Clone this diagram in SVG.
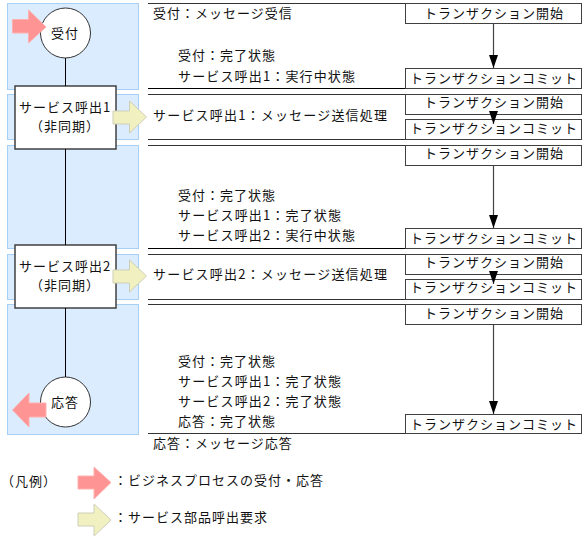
<svg xmlns="http://www.w3.org/2000/svg" width="585" height="539" viewBox="0 0 585 539">
<style>
text{font-family:"Noto Sans CJK JP","Liberation Sans",sans-serif;font-size:13px;letter-spacing:1px;fill:#111}
.m{text-anchor:middle}
.lane{fill:#dbecff;stroke:#a6d0f5;stroke-width:1}
.box{fill:#fff;stroke:#404040;stroke-width:1.5}
.tx{fill:#fff;stroke:#404040;stroke-width:1}
.rule{stroke:#333;stroke-width:1;fill:none}
.rk{stroke:#000;stroke-width:1;fill:none}
.red{fill:#ff9494;stroke:#ffb0b0;stroke-width:1}
.yel{fill:#f0f0c0;stroke:#cfcfb8;stroke-width:1}
.ln{stroke:#000;stroke-width:1;fill:none}
.fl{stroke:#444;stroke-width:1.2;fill:none;marker-end:url(#ah)}
</style>
<defs>
<marker id="ah" markerUnits="userSpaceOnUse" markerWidth="13" markerHeight="9" refX="13" refY="4.500" orient="auto" viewBox="0 0 13 9"><path d="M0 0L13 4.500L0 9Z" fill="#000"/></marker>
</defs>
<g id="lanes">
<rect class="lane" x="7.5" y="3.5" width="131" height="86"/>
<rect class="lane" x="7.5" y="94.5" width="131" height="45"/>
<rect class="lane" x="7.5" y="145.5" width="131" height="103"/>
<rect class="lane" x="7.5" y="254.5" width="131" height="45"/>
<rect class="lane" x="7.5" y="304.5" width="131" height="130"/>
</g>
<g id="rules">
<path class="rule" d="M148 3.500H581M148 94.500H581M148 139.500H581M148 145.500H581M148 254.500H581M148 299.500H581M148 304.500H581M148 433.500H405"/>
<path class="rk" d="M148 88.500H581M148 248.500H581"/>
</g>
<g id="start"><circle cx="65.500" cy="33" r="25" fill="#fff" stroke="#333" stroke-width="1"/><text class="m" x="65" y="38">受付</text></g>
<g id="end"><circle cx="65.500" cy="402" r="25" fill="#fff" stroke="#333" stroke-width="1"/><text class="m" x="65" y="407">応答</text></g>
<g id="arrow-in"><path class="red" d="M12.500 19.500H28.500V10L46 27L28.500 43V33H12.500Z"/></g>
<g id="arrow-out"><path class="red" d="M46 403H29V393L12.500 410L29 427V417H46Z"/></g>
<g id="call1"><rect class="box" x="15" y="86" width="101" height="63"/><text class="m" x="65" y="112">サービス呼出1</text><text class="m" x="65" y="131">（非同期）</text></g>
<g id="call2"><rect class="box" x="15" y="245" width="101" height="63"/><text class="m" x="65" y="271">サービス呼出2</text><text class="m" x="65" y="290">（非同期）</text></g>
<g id="arrow-y1"><path class="yel" d="M113 111H129.500V101L146.500 117L129.500 133V124H113Z"/></g>
<g id="arrow-y2"><path class="yel" d="M113 270H129.500V260L146.500 276L129.500 292V283H113Z"/></g>
<g id="tx1"><rect class="tx" x="405.500" y="3.500" width="176" height="20"/><text class="m" x="494" y="18">トランザクション開始</text></g>
<g id="tx2"><rect class="tx" x="405.500" y="68.500" width="176" height="20"/><text class="m" x="494" y="83">トランザクションコミット</text></g>
<g id="tx3"><rect class="tx" x="405.500" y="94.500" width="176" height="20"/><text class="m" x="494" y="107">トランザクション開始</text></g>
<g id="tx4"><rect class="tx" x="405.500" y="119.500" width="176" height="20"/><text class="m" x="494" y="133">トランザクションコミット</text></g>
<g id="tx5"><rect class="tx" x="405.500" y="145.500" width="176" height="20"/><text class="m" x="494" y="158">トランザクション開始</text></g>
<g id="tx6"><rect class="tx" x="405.500" y="228.500" width="176" height="20"/><text class="m" x="494" y="243">トランザクションコミット</text></g>
<g id="tx7"><rect class="tx" x="405.500" y="254.500" width="176" height="20"/><text class="m" x="494" y="267">トランザクション開始</text></g>
<g id="tx8"><rect class="tx" x="405.500" y="279.500" width="176" height="20"/><text class="m" x="494" y="292">トランザクションコミット</text></g>
<g id="tx9"><rect class="tx" x="405.500" y="304.500" width="176" height="20"/><text class="m" x="494" y="318">トランザクション開始</text></g>
<g id="tx10"><rect class="tx" x="405.500" y="414.500" width="176" height="19"/><text class="m" x="494" y="429">トランザクションコミット</text></g>
<g id="connectors">
<path class="ln" d="M65.500 58V86M65.500 149V245M65.500 308V377"/>
<path class="fl" d="M493.500 24V68"/>
<path class="fl" d="M493.500 115V124"/>
<path class="fl" d="M493.500 165V228"/>
<path class="fl" d="M493.500 275V284"/>
<path class="fl" d="M493.500 325V414"/>
</g>
<g id="labels">
<text x="153" y="18">受付：メッセージ受信</text>
<text x="178" y="60">受付：完了状態</text>
<text x="178" y="81" textLength="178">サービス呼出1：実行中状態</text>
<text x="153" y="120" textLength="235">サービス呼出1：メッセージ送信処理</text>
<text x="178" y="200">受付：完了状態</text>
<text x="178" y="220" textLength="164">サービス呼出1：完了状態</text>
<text x="178" y="240" textLength="178">サービス呼出2：実行中状態</text>
<text x="153" y="279" textLength="235">サービス呼出2：メッセージ送信処理</text>
<text x="178" y="366">受付：完了状態</text>
<text x="178" y="386" textLength="164">サービス呼出1：完了状態</text>
<text x="178" y="406" textLength="164">サービス呼出2：完了状態</text>
<text x="178" y="426">応答：完了状態</text>
<text x="153" y="448">応答：メッセージ応答</text>
</g>
<g id="legend">
<text x="1" y="486">（凡例）</text>
<path class="red" d="M78 476H94V467L111 482.500L94 499V489H78Z"/>
<text x="114" y="485">：ビジネスプロセスの受付・応答</text>
<path class="yel" d="M78 513H94V504L111 520L94 536V526H78Z"/>
<text x="114" y="522">：サービス部品呼出要求</text>
</g>
</svg>
